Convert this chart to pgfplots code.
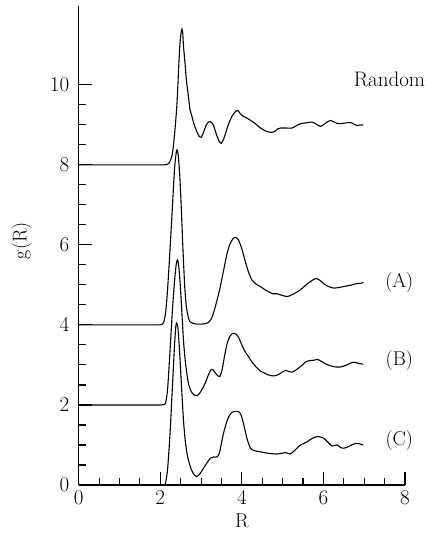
\documentclass[border=0pt]{standalone}
\usepackage{pgfplots}
\pgfplotsset{compat=1.18}
\tikzset{curve/.style={black, line width=1.1pt, no markers, smooth, tension=0.4}}
\begin{document}
\begin{tikzpicture}
\useasboundingbox (0,0) rectangle (433pt,534pt);
\begin{axis}[
  at={(78.7pt,49pt)}, anchor=south west,
  scale only axis, width=326.3pt, height=479pt,
  xmin=0, xmax=8, ymin=0, ymax=11.97,
  axis x line*=bottom, axis y line*=left,
  axis line style={line width=1.1pt},
  tick align=inside,
  xtick={0,2,4,6,8}, ytick={0,2,4,6,8,10},
  minor x tick num=3, minor y tick num=3,
  major tick length=13pt, minor tick length=7pt,
  every tick/.style={line width=1.1pt, black},
  /pgf/number format/assume math mode=true,
  tick label style={font=\fontsize{21}{25}\selectfont},
  xticklabel style={yshift=-2pt},
  yticklabel style={xshift=-6pt},
  xlabel={R}, ylabel={g(R)},
  label style={font=\fontsize{20}{24}\selectfont},
  xlabel style={at={(axis description cs:0.5,-0.074)}, anchor=center},
  ylabel style={at={(axis description cs:-0.175,0.51)}, anchor=center},
  clip=false,
]
\addplot[curve] coordinates {(0,8) (1.0,8) (1.6,8) (1.95,8) (2.1,8) (2.17,8.01) (2.22,8.05) (2.28,8.2) (2.32,8.46) (2.37,9.0) (2.41,9.54) (2.45,10.4) (2.48,11.0) (2.51,11.3) (2.53,11.39) (2.55,11.3) (2.57,10.96) (2.61,10.5) (2.64,10.12) (2.69,9.71) (2.73,9.375) (2.78,9.2) (2.82,9.04) (2.9,8.82) (2.96,8.7) (3.0,8.69) (3.05,8.78) (3.12,8.98) (3.18,9.07) (3.23,9.08) (3.3,9.0) (3.38,8.75) (3.45,8.58) (3.50,8.54) (3.56,8.66) (3.65,8.95) (3.75,9.2) (3.85,9.34) (3.90,9.36) (3.96,9.28) (4.04,9.21) (4.12,9.17) (4.2,9.12) (4.33,9.03) (4.42,8.95) (4.5,8.89) (4.6,8.84) (4.72,8.81) (4.8,8.83) (4.88,8.9) (4.95,8.92) (5.1,8.92) (5.23,8.92) (5.32,8.97) (5.44,9.03) (5.58,9.05) (5.72,9.07) (5.82,9.02) (5.93,8.96) (6.05,9.04) (6.17,9.11) (6.28,9.06) (6.38,9.03) (6.5,9.04) (6.65,9.06) (6.75,9.02) (6.83,8.98) (6.9,9.0) (6.98,8.99)};
\addplot[curve] coordinates {(0,4) (1.0,4) (1.5,4) (1.85,4) (1.97,4) (2.04,4.01) (2.08,4.05) (2.13,4.3) (2.18,4.9) (2.24,5.9) (2.3,7.0) (2.35,7.9) (2.39,8.3) (2.41,8.375) (2.44,8.25) (2.48,7.7) (2.52,6.8) (2.56,5.8) (2.6,4.95) (2.64,4.45) (2.69,4.18) (2.73,4.08) (2.8,4.04) (2.9,4.02) (3.0,4.02) (3.1,4.03) (3.18,4.06) (3.25,4.15) (3.32,4.35) (3.4,4.65) (3.47,4.95) (3.55,5.35) (3.63,5.75) (3.7,6.0) (3.78,6.15) (3.85,6.19) (3.92,6.12) (4.0,5.9) (4.08,5.6) (4.17,5.3) (4.25,5.12) (4.35,5.02) (4.45,4.96) (4.55,4.89) (4.65,4.83) (4.76,4.78) (4.86,4.78) (4.95,4.75) (5.05,4.72) (5.12,4.71) (5.2,4.74) (5.3,4.79) (5.44,4.88) (5.55,4.98) (5.65,5.06) (5.75,5.13) (5.83,5.16) (5.92,5.11) (6.02,5.02) (6.12,4.96) (6.26,4.92) (6.4,4.94) (6.55,4.97) (6.7,5.0) (6.8,5.03) (6.91,5.04) (6.98,5.06)};
\addplot[curve] coordinates {(0,2) (1.0,2) (1.5,2) (1.9,2) (2.02,2) (2.09,2.01) (2.13,2.05) (2.18,2.4) (2.24,3.375) (2.3,4.4) (2.35,5.1) (2.39,5.5) (2.42,5.625) (2.45,5.5) (2.49,5.0) (2.53,4.3) (2.57,3.6) (2.61,3.125) (2.65,2.8) (2.69,2.54) (2.75,2.35) (2.82,2.26) (2.9,2.23) (2.97,2.3) (3.04,2.42) (3.1,2.54) (3.18,2.75) (3.25,2.89) (3.3,2.87) (3.38,2.76) (3.46,2.71) (3.52,2.9) (3.58,3.25) (3.64,3.54) (3.7,3.7) (3.76,3.78) (3.8,3.79) (3.86,3.77) (3.93,3.67) (4.0,3.5) (4.08,3.33) (4.17,3.2) (4.25,3.07) (4.35,2.95) (4.45,2.85) (4.55,2.8) (4.65,2.75) (4.78,2.725) (4.9,2.76) (5.0,2.83) (5.07,2.86) (5.15,2.84) (5.23,2.82) (5.32,2.87) (5.45,2.97) (5.57,3.08) (5.67,3.11) (5.78,3.12) (5.85,3.14) (5.93,3.1) (6.05,3.03) (6.17,2.98) (6.3,2.95) (6.42,2.95) (6.55,2.99) (6.65,3.04) (6.75,3.07) (6.85,3.04) (6.98,3.02)};
\addplot[curve] coordinates {(0,0) (1.0,0) (1.5,0) (1.9,0) (2.02,0) (2.09,0.01) (2.13,0.05) (2.18,0.4) (2.24,1.3) (2.3,2.5) (2.35,3.5) (2.38,3.95) (2.4,4.05) (2.43,3.95) (2.47,3.4) (2.53,2.29) (2.57,1.6) (2.61,1.125) (2.65,0.82) (2.69,0.625) (2.75,0.42) (2.82,0.27) (2.9,0.21) (2.98,0.29) (3.06,0.42) (3.15,0.56) (3.23,0.67) (3.3,0.7) (3.39,0.7) (3.45,0.8) (3.5,1.05) (3.55,1.29) (3.62,1.55) (3.68,1.71) (3.76,1.82) (3.84,1.84) (3.92,1.83) (3.98,1.75) (4.05,1.5) (4.12,1.18) (4.21,0.92) (4.3,0.86) (4.45,0.83) (4.6,0.8) (4.75,0.78) (4.86,0.775) (4.96,0.79) (5.07,0.81) (5.13,0.79) (5.19,0.775) (5.28,0.85) (5.38,0.95) (5.44,1.0) (5.52,1.04) (5.6,1.08) (5.7,1.15) (5.83,1.21) (5.92,1.2) (6.01,1.17) (6.1,1.08) (6.21,0.975) (6.28,0.99) (6.34,1.0) (6.4,0.95) (6.46,0.92) (6.55,0.93) (6.65,0.98) (6.79,1.04) (6.88,1.03) (6.98,1.0)};
\node[font=\fontsize{21}{25}\selectfont] at (axis cs:7.62,10.14) {Random};
\node[font=\fontsize{20}{24}\selectfont] at (axis cs:7.86,5.06) {(A)};
\node[font=\fontsize{20}{24}\selectfont] at (axis cs:7.86,3.11) {(B)};
\node[font=\fontsize{20}{24}\selectfont] at (axis cs:7.86,1.11) {(C)};
\end{axis}
\end{tikzpicture}
\end{document}
